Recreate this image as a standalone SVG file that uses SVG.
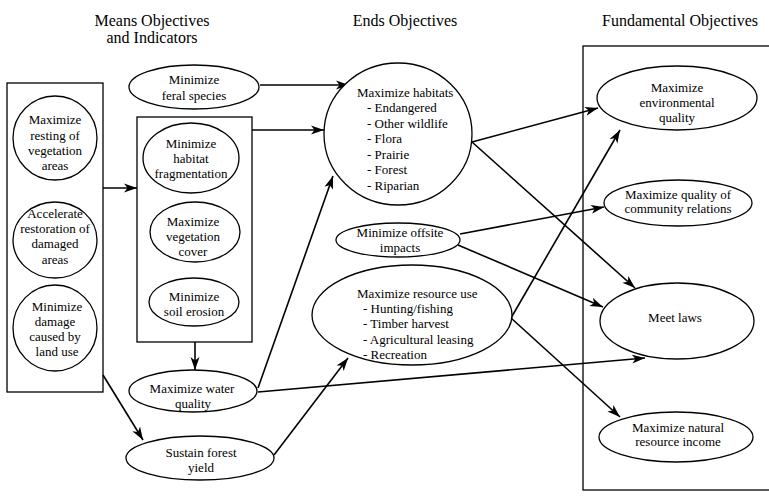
<svg xmlns="http://www.w3.org/2000/svg" width="769" height="496" viewBox="0 0 769 496">
<style>
text{font-family:"Liberation Serif","Times New Roman",serif;fill:#000}
.h{font-size:16px;text-anchor:middle}
.t{font-size:13px;text-anchor:middle}
.l{font-size:13px}
.n{fill:#fff;stroke:#000;stroke-width:1.3}
.b{fill:none;stroke:#000;stroke-width:1.3}
.c{fill:none;stroke:#000;stroke-width:1.6;marker-end:url(#ah)}
</style>
<defs>
<marker id="ah" markerUnits="userSpaceOnUse" markerWidth="14" markerHeight="10" refX="13" refY="5" orient="auto">
<path d="M0,0.5 L13,5 L0,9.5 L3.5,5 z" fill="#000"/>
</marker>
</defs>
<rect width="769" height="496" fill="#fff"/>
<g id="headers">
<text class="h" x="152" y="26">Means Objectives</text>
<text class="h" x="152" y="43">and Indicators</text>
<text class="h" x="405" y="26">Ends Objectives</text>
<text class="h" x="680" y="26">Fundamental Objectives</text>
</g>
<g id="boxes">
<rect class="b" x="7" y="83" width="96" height="309"/>
<rect class="b" x="137" y="117" width="115" height="225"/>
<rect class="b" x="583" y="46" width="195" height="444"/>
</g>
<g id="connectors">
<path class="c" d="M103,188 L137,188"/>
<path class="c" d="M260,85 L349,85"/>
<path class="c" d="M252,130 L324,130"/>
<path class="c" d="M195,342 L195,370"/>
<path class="c" d="M103,375 L143,440"/>
<path class="c" d="M258,388 L333,176"/>
<path class="c" d="M274,455 L348,358"/>
<path class="c" d="M258,392 L645,358"/>
<path class="c" d="M472,142 L598,108"/>
<path class="c" d="M472,142 L635,288"/>
<path class="c" d="M460,234 L604,207"/>
<path class="c" d="M458,245 L603,307"/>
<path class="c" d="M511,318 L620,130"/>
<path class="c" d="M511,318 L620,417"/>
</g>
<g id="n-resting">
<ellipse class="n" cx="55" cy="138" rx="42" ry="42"/>
<text class="t" x="55" y="124">Maximize</text>
<text class="t" x="55" y="140">resting of</text>
<text class="t" x="55" y="155">vegetation</text>
<text class="t" x="55" y="170">areas</text>
</g>
<g id="n-restoration">
<ellipse class="n" cx="55" cy="240" rx="42" ry="38"/>
<text class="t" x="55" y="218">Accelerate</text>
<text class="t" x="55" y="233">restoration of</text>
<text class="t" x="55" y="248">damaged</text>
<text class="t" x="55" y="264">areas</text>
</g>
<g id="n-damage">
<ellipse class="n" cx="55" cy="328" rx="42" ry="43"/>
<text class="t" x="57" y="311">Minimize</text>
<text class="t" x="55" y="326">damage</text>
<text class="t" x="55" y="341">caused by</text>
<text class="t" x="57" y="356">land use</text>
</g>
<g id="n-feral">
<ellipse class="n" cx="194" cy="87" rx="65" ry="22"/>
<text class="t" x="194" y="84">Minimize</text>
<text class="t" x="194" y="100">feral species</text>
</g>
<g id="n-fragmentation">
<ellipse class="n" cx="191" cy="158" rx="48" ry="35"/>
<text class="t" x="191" y="148">Minimize</text>
<text class="t" x="191" y="163">habitat</text>
<text class="t" x="191" y="178">fragmentation</text>
</g>
<g id="n-vegetation">
<ellipse class="n" cx="195" cy="232" rx="45" ry="30"/>
<text class="t" x="193" y="226">Maximize</text>
<text class="t" x="193" y="241">vegetation</text>
<text class="t" x="193" y="256">cover</text>
</g>
<g id="n-erosion">
<ellipse class="n" cx="194" cy="302" rx="45" ry="24"/>
<text class="t" x="194" y="301">Minimize</text>
<text class="t" x="194" y="316">soil erosion</text>
</g>
<g id="n-water">
<ellipse class="n" cx="193" cy="391" rx="64" ry="21"/>
<text class="t" x="192" y="393">Maximize water</text>
<text class="t" x="193" y="408">quality</text>
</g>
<g id="n-forest">
<ellipse class="n" cx="200" cy="458" rx="74" ry="22"/>
<text class="t" x="201" y="457">Sustain forest</text>
<text class="t" x="201" y="472">yield</text>
</g>
<g id="n-habitats">
<ellipse class="n" cx="398" cy="134" rx="74" ry="71"/>
<text class="l" x="357" y="97">Maximize habitats</text>
<text class="l" x="367" y="112">- Endangered</text>
<text class="l" x="367" y="128">- Other wildlife</text>
<text class="l" x="367" y="143">- Flora</text>
<text class="l" x="367" y="159">- Prairie</text>
<text class="l" x="367" y="174">- Forest</text>
<text class="l" x="367" y="190">- Riparian</text>
</g>
<g id="n-offsite">
<ellipse class="n" cx="398" cy="240" rx="62" ry="17"/>
<text class="t" x="400" y="237">Minimize offsite</text>
<text class="t" x="400" y="252">impacts</text>
</g>
<g id="n-resource">
<ellipse class="n" cx="412" cy="315" rx="100" ry="50"/>
<text class="l" x="357" y="298">Maximize resource use</text>
<text class="l" x="363" y="313">- Hunting/fishing</text>
<text class="l" x="363" y="328">- Timber harvest</text>
<text class="l" x="363" y="344">- Agricultural leasing</text>
<text class="l" x="363" y="359">- Recreation</text>
</g>
<g id="n-environmental">
<ellipse class="n" cx="677" cy="98" rx="80" ry="32"/>
<text class="t" x="677" y="92">Maximize</text>
<text class="t" x="677" y="107">environmental</text>
<text class="t" x="677" y="122">quality</text>
</g>
<g id="n-community">
<ellipse class="n" cx="678" cy="203" rx="74" ry="23"/>
<text class="t" x="678" y="199">Maximize quality of</text>
<text class="t" x="678" y="213">community relations</text>
</g>
<g id="n-laws">
<ellipse class="n" cx="677" cy="321" rx="77" ry="38"/>
<text class="t" x="675" y="322">Meet laws</text>
</g>
<g id="n-income">
<ellipse class="n" cx="676" cy="437" rx="77" ry="25"/>
<text class="t" x="678" y="432">Maximize natural</text>
<text class="t" x="678" y="446">resource income</text>
</g>
</svg>
